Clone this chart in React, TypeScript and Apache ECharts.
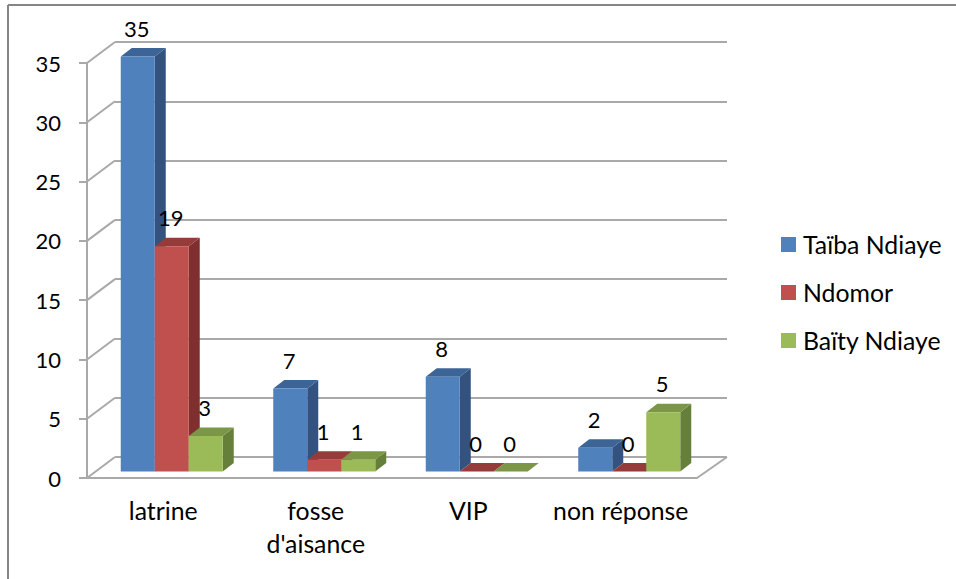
import React, { useEffect, useRef } from "react";
import * as echarts from "echarts";

const categories = ["latrine", "fosse\nd'aisance", "VIP", "non réponse"];
const seriesNames = ["Taïba Ndiaye", "Ndomor", "Baïty Ndiaye"];
const taibaValues = [35, 7, 8, 2];
const ndomorValues = [19, 1, 0, 0];
const baityValues = [3, 1, 0, 5];
const valueTicks = [0, 5, 10, 15, 20, 25, 30, 35];

const frontColors = ["#4f81bd", "#c0504d", "#9bbb59"];
const topColors = ["#3c6497", "#953c3a", "#7a9646"];
const sideColors = ["#335280", "#7f2f2d", "#66803c"];
const FONT = "Lato, 'Open Sans', sans-serif";
const TEXT_SIZE = 24.8;
const DIGIT_SIZE = 22;
const AXIS = "#a9a9a9";

const WALL_DX = 28;
const WALL_DY = 21;
const BAR_DX = 8.5;
const BAR_DY = 6.5;
const DEPTH_X = 11;
const DEPTH_Y = 8.5;

function barSeries(seriesIndex: number, values: number[]) {
  return {
    type: "custom",
    name: seriesNames[seriesIndex],
    xAxisIndex: 0,
    yAxisIndex: 0,
    z: 5 + seriesIndex,
    itemStyle: { color: frontColors[seriesIndex] },
    encode: { x: 0, y: 1 },
    data: values.map((v, i) => [i, v]),
    clip: false,
    renderItem: (_params: any, api: any) => {
      const cat = api.value(0);
      const val = api.value(1);
      const top = api.coord([cat, val]);
      const base = api.coord([cat, 0]);
      const barW = 34;
      const x0 = top[0] + BAR_DX - barW * 1.5 + barW * seriesIndex;
      const x1 = x0 + barW;
      const yT = top[1] - BAR_DY;
      const yB = base[1] - BAR_DY;
      const children: any[] = [
        {
          type: "polygon",
          shape: { points: [[x1, yT], [x1 + DEPTH_X, yT - DEPTH_Y], [x1 + DEPTH_X, yB - DEPTH_Y], [x1, yB]] },
          style: { fill: sideColors[seriesIndex] },
        },
        {
          type: "polygon",
          shape: { points: [[x0, yT], [x0 + DEPTH_X, yT - DEPTH_Y], [x1 + DEPTH_X, yT - DEPTH_Y], [x1, yT]] },
          style: { fill: topColors[seriesIndex] },
        },
        {
          type: "rect",
          shape: { x: x0, y: yT, width: barW, height: yB - yT },
          style: { fill: frontColors[seriesIndex] },
        },
        {
          type: "text",
          z2: 50,
          style: {
            text: String(val),
            x: x0 + barW / 2 - 1,
            y: yT - DEPTH_Y - 9,
            align: "center",
            verticalAlign: "bottom",
            fill: "#000",
            font: `${DIGIT_SIZE}px ${FONT}`,
          },
        },
      ];
      return { type: "group", children };
    },
  };
}

export default function App() {
  const ref = useRef<HTMLDivElement>(null);
  useEffect(() => {
    document.body.style.margin = "0";
    document.body.style.background = "#fff";
    const chart = echarts.init(ref.current!, undefined, { renderer: "svg" });
    chart.setOption({
      animation: false,
      backgroundColor: "#ffffff",
      legend: {
        orient: "vertical",
        left: 781,
        top: 232,
        padding: 0,
        itemWidth: 15,
        itemHeight: 15,
        itemGap: 23,
        icon: "rect",
        data: seriesNames,
        textStyle: { fontFamily: FONT, fontSize: TEXT_SIZE, color: "#000", padding: [0, 0, 0, 2] },
      },
      grid: [
        { left: 87, top: 63, width: 610, height: 415 },
        { left: 87 + WALL_DX, top: 63 - WALL_DY, width: 612, height: 415 },
      ],
      xAxis: [
        {
          type: "category",
          gridIndex: 0,
          data: categories,
          axisLine: { lineStyle: { color: AXIS, width: 2 } },
          axisTick: { length: 8, alignWithLabel: false, lineStyle: { color: AXIS, width: 2 } },
          axisLabel: { color: "#000", fontFamily: FONT, fontSize: TEXT_SIZE, lineHeight: 33, margin: 16, interval: 0 },
        },
        { type: "category", gridIndex: 1, data: categories, show: false },
      ],
      yAxis: [
        {
          type: "value",
          gridIndex: 0,
          min: 0,
          max: 35,
          interval: 5,
          axisLine: { show: true, lineStyle: { color: AXIS, width: 2 } },
          axisTick: { show: true, length: 8, lineStyle: { color: AXIS, width: 2 } },
          splitLine: { show: false },
          axisLabel: { color: "#000", fontFamily: FONT, fontSize: DIGIT_SIZE, margin: 26 },
        },
        {
          type: "value",
          gridIndex: 1,
          min: 0,
          max: 35,
          interval: 5,
          axisLine: { show: false },
          axisTick: { show: false },
          axisLabel: { show: false },
          splitLine: { show: true, lineStyle: { color: AXIS, width: 2 } },
        },
      ],
      graphic: [
        { type: "line", z: 0, shape: { x1: 8, y1: 5, x2: 956, y2: 5 }, style: { stroke: "#868686", lineWidth: 2 } },
        { type: "line", z: 0, shape: { x1: 8, y1: 5, x2: 8, y2: 579 }, style: { stroke: "#868686", lineWidth: 2 } },
      ],
      series: [
        {
          type: "custom",
          name: "walls",
          xAxisIndex: 0,
          yAxisIndex: 0,
          z: 1,
          silent: true,
          clip: false,
          encode: { y: 1 },
          data: valueTicks.map((v) => [0, v]),
          renderItem: (params: any, api: any) => {
            const v = api.value(1);
            const y = api.coord([0, v])[1];
            const cs = params.coordSys;
            const children: any[] = [
              {
                type: "line",
                shape: { x1: cs.x, y1: y, x2: cs.x + WALL_DX, y2: y - WALL_DY },
                style: { stroke: AXIS, lineWidth: 2 },
              },
            ];
            if (v === 0) {
              children.push({
                type: "line",
                shape: { x1: cs.x + cs.width, y1: y, x2: cs.x + cs.width + WALL_DX + 2, y2: y - WALL_DY },
                style: { stroke: AXIS, lineWidth: 2 },
              });
            }
            return { type: "group", children };
          },
        },
        barSeries(0, taibaValues),
        barSeries(1, ndomorValues),
        barSeries(2, baityValues),
      ],
    });
    return () => chart.dispose();
  }, []);
  return <div ref={ref} style={{ position: "absolute", left: 0, top: 0, width: 956, height: 579 }} />;
}
